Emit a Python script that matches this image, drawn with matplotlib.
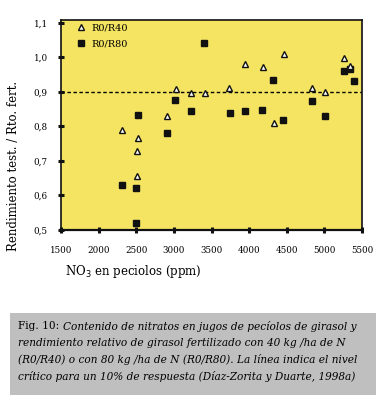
import matplotlib
matplotlib.use("Agg")
import matplotlib.pyplot as plt
from matplotlib.patches import Rectangle

# Data
r40_x = [2307, 2528, 2507, 2507, 2914, 3027, 3229, 3415, 3735, 3951, 4182, 4324, 4457, 4842, 5011, 5267, 5343]
r40_y = [0.791, 0.767, 0.729, 0.656, 0.831, 0.910, 0.897, 0.896, 0.912, 0.982, 0.973, 0.811, 1.011, 0.912, 0.900, 0.998, 0.974]
r80_x = [2307, 2497, 2497, 2524, 2905, 3016, 3229, 3402, 3747, 3947, 4177, 4315, 4448, 4838, 5011, 5267, 5335, 5400]
r80_y = [0.629, 0.623, 0.521, 0.834, 0.782, 0.878, 0.846, 1.042, 0.840, 0.846, 0.849, 0.935, 0.818, 0.875, 0.829, 0.962, 0.968, 0.932]
xticks = [1500, 2000, 2500, 3000, 3500, 4000, 4500, 5000, 5500]
yticks = [0.5, 0.6, 0.7, 0.8, 0.9, 1.0, 1.1]
ytick_labels = ["0,5", "0,6", "0,7", "0,8", "0,9", "1,0", "1,1"]
critical_level = 0.9

W, H = 387, 413
fig = plt.figure(figsize=(W / 100, H / 100), dpi=100)
fig.patch.set_facecolor("white")

ax = fig.add_axes([61 / W, 1 - 230 / H, (362 - 61) / W, (230 - 19.5) / H])
ax.set_facecolor("#F4E462")
ax.set_xlim(1500, 5500)
ax.set_ylim(0.5, 1.11)

ax.axhline(critical_level, color="black", lw=1.0, ls=(0, (2.5, 1.8)), zorder=1)

ax.plot(r80_x, r80_y, ls="none", marker="s", ms=4.7, mfc="#111111", mec="#111111",
        label="R0/R80", zorder=3)
ax.plot(r40_x, r40_y, ls="none", marker="^", ms=5.0, mfc="white", mec="#111111",
        mew=1.0, label="R0/R40", zorder=4)

handles, labels = ax.get_legend_handles_labels()
leg = ax.legend(handles[::-1], labels[::-1], loc="upper left", frameon=False,
                prop={"family": "DejaVu Serif", "size": 7},
                handlelength=1.0, handletextpad=0.6, labelspacing=0.75,
                bbox_to_anchor=(0.03, 1.01), borderaxespad=0.2)

ax.set_xticks(xticks)
ax.set_xticklabels([str(v) for v in xticks], family="DejaVu Serif", fontsize=6.3)
ax.set_yticks(yticks)
ax.set_yticklabels(ytick_labels, family="DejaVu Serif", fontsize=6.3)
ax.tick_params(axis="both", direction="inout", length=5, width=2.2, color="#111111")
ax.tick_params(axis="x", pad=9)
ax.tick_params(axis="y", pad=7)
for s in ax.spines.values():
    s.set_linewidth(1.2)
    s.set_color("#111111")
ax.spines["bottom"].set_linewidth(1.6)

fig.text(65 / W, 1 - 272 / H, r"NO$_3$ en peciolos (ppm)", family="DejaVu Serif",
         fontsize=8.5, ha="left", va="center")
fig.text(14 / W, 1 - 166 / H, "Rendimiento test. / Rto. fert.", family="DejaVu Serif",
         fontsize=8.5, rotation=90, ha="center", va="center")

# Caption box
fig.patches.append(Rectangle((10 / W, 1 - 395 / H), (376 - 10) / W, (395 - 313) / H,
                             transform=fig.transFigure, facecolor="#BFBFBF",
                             edgecolor="none", zorder=0))
cap_lines = [
    "Contenido de nitratos en jugos de pecíolos de girasol y",
    "rendimiento relativo de girasol fertilizado con 40 kg /ha de N",
    "(R0/R40) o con 80 kg /ha de N (R0/R80). La línea indica el nivel",
    "crítico para un 10% de respuesta (Díaz-Zorita y Duarte, 1998a)",
]
ys = [326, 342.7, 359.4, 376]
fs = 7.6
t0 = fig.text(18 / W, 1 - ys[0] / H, "Fig. 10: ", family="DejaVu Serif", fontsize=fs,
              ha="left", va="center")
fig.canvas.draw()
r = fig.canvas.get_renderer()
bb = t0.get_window_extent(r)
x_after = bb.x1 / W
fig.text(x_after, 1 - ys[0] / H, cap_lines[0], family="DejaVu Serif", style="italic",
         fontsize=fs, ha="left", va="center")
for line, y in zip(cap_lines[1:], ys[1:]):
    fig.text(18 / W, 1 - y / H, line, family="DejaVu Serif", style="italic",
             fontsize=fs, ha="left", va="center")

fig.savefig("out.png", dpi=100)
